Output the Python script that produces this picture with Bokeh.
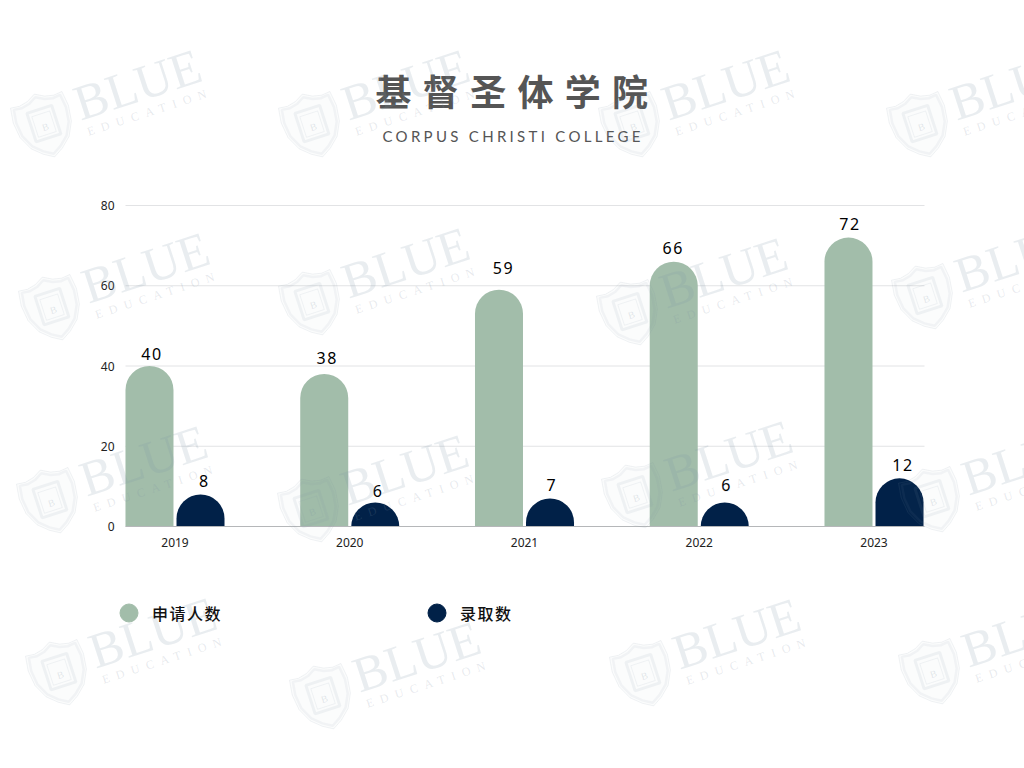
import math
import numpy as np
from bokeh.embed import file_html
from bokeh.resources import INLINE
from bokeh.io import curdoc
from bokeh.plotting import figure
from bokeh.core.properties import value
from bokeh.models import (ColumnDataSource, CustomJS, FixedTicker, Label, Legend, LegendItem,
                          PolyAnnotation, Range1d)

years = ["2019", "2020", "2021", "2022", "2023"]
applicants = [40, 38, 59, 66, 72]
admitted = [8, 6, 7, 6, 12]
series_names = ["申请人数", "录取数"]
y_ticks = [0, 20, 40, 60, 80]
title_text = "基督圣体学院"
subtitle_text = "CORPUS CHRISTI COLLEGE"

GREEN = "#a2bdaa"
NAVY = "#012148"
WM = "#7f92a5"
CJK = "Noto Sans CJK SC"
W, H = 1024, 768
# plot box in page pixels; the frame fills the page so that titles and legend are not clipped
PX0, PX1, PY0, PY1 = 125.0, 924.0, 205.0, 526.0
STEP = 174.75
X0 = 174.5
YK = (PY1 - PY0) / 80.0

p = figure(width=W, height=H, output_backend="svg", toolbar_location=None,
           x_range=Range1d((0 - X0) / STEP, (W - X0) / STEP),
           y_range=Range1d((PY1 - H) / YK, (PY1 - 0) / YK),
           min_border_left=0, min_border_right=0, min_border_top=0, min_border_bottom=0)
p.outline_line_color = None
p.background_fill_color = "white"
p.border_fill_color = "white"
p.grid.visible = False

x_lo, x_hi = (PX0 - X0) / STEP, (PX1 - X0) / STEP
p.segment(x0=[x_lo] * 4, x1=[x_hi] * 4, y0=y_ticks[1:], y1=y_ticks[1:], line_color="#e2e3e5", line_width=1)

p.yaxis.fixed_location = x_lo
p.yaxis.ticker = FixedTicker(ticks=y_ticks)
p.yaxis.axis_line_color = None
p.yaxis.major_tick_line_color = None
p.yaxis.minor_tick_line_color = None
p.yaxis.major_label_text_font = "Noto Sans"
p.yaxis.major_label_text_font_size = "12px"
p.yaxis.major_label_text_color = "#222222"
p.yaxis.major_label_standoff = 5

p.xaxis.fixed_location = 0
p.xaxis.bounds = (x_lo, x_hi)
p.xaxis.ticker = FixedTicker(ticks=list(range(len(years))))
p.xaxis.major_label_overrides = {i: y for i, y in enumerate(years)}
p.xaxis.axis_line_color = "#b5b7b9"
p.xaxis.major_tick_line_color = None
p.xaxis.minor_tick_line_color = None
p.xaxis.major_label_text_font = "Noto Sans"
p.xaxis.major_label_text_font_size = "12px"
p.xaxis.major_label_text_color = "#222222"
p.xaxis.major_label_standoff = 5

idx = np.arange(len(years))
OFFSET, WIDTH = 0.146, 0.2747
radius = (24, 24, 0, 0)
p.vbar(x=idx - OFFSET, top=applicants, width=WIDTH, fill_color=GREEN, line_color=None, border_radius=radius)
p.vbar(x=idx + OFFSET, top=admitted, width=WIDTH, fill_color=NAVY, line_color=None, border_radius=radius)

# value labels, with the small nudges seen in the reference (pixels)
dx_a = [1, 1.5, 3, -2, 0]
dy_a = [12, 16, 22, 14, 14]
dx_b = [3, 2, 1, 1, 2]
dy_b = [13, 11, 13, 17, 13]
for xs, vals, dx, dy in ((idx - OFFSET, applicants, dx_a, dy_a), (idx + OFFSET, admitted, dx_b, dy_b)):
    src = ColumnDataSource(dict(x=xs, y=vals, t=[str(v) for v in vals], dx=dx, dy=[-d for d in dy]))
    p.text("x", "y", text="t", source=src, x_offset="dx", y_offset="dy",
           text_font=value("Noto Sans"), text_font_size="16px", text_color="#000000",
           text_align="center", text_baseline="middle")

# legend: the circles are drawn by the real Legend; the plot markers themselves have no size
r_a = p.scatter(idx - OFFSET, applicants, marker="circle", size=0, color=GREEN)
r_b = p.scatter(idx + OFFSET, admitted, marker="circle", size=0, color=NAVY)
legend = Legend(items=[LegendItem(label=series_names[0], renderers=[r_a]),
                       LegendItem(label=series_names[1], renderers=[r_b])],
                orientation="horizontal", location=(106, H - 635),
                glyph_width=45, glyph_height=45, label_standoff=1, spacing=192,
                padding=0, margin=0, border_line_color=None, background_fill_alpha=0,
                label_text_font="Noto Sans CJK SC Medium", label_text_font_size="16px",
                label_text_color="#111111", label_text_baseline="middle")
p.add_layout(legend, "center")


def sx(x):
    return x


def sy(y):
    return H - y


# titles
title = Label(x=sx(375), y=sy(89), x_units="screen", y_units="screen", text=title_text,
              text_font=CJK, text_font_size="36px", text_font_style="bold", text_color="#555555",
              text_align="left", text_baseline="alphabetic")
subtitle = Label(x=sx(382), y=sy(135), x_units="screen", y_units="screen", text=subtitle_text,
                 text_font="Lato", text_font_size="15px", text_color="#555555",
                 text_align="left", text_baseline="alphabetic")
p.add_layout(title)
p.add_layout(subtitle)

# watermark
shield_centres = [(42, 125), (310, 125), (630, 125), (918, 125),
                  (50, 308), (310, 303), (628, 313), (923, 297),
                  (48, 501), (309, 510), (633, 496), (930, 500),
                  (57, 673), (321, 697), (641, 674), (930, 672)]
ANG = math.radians(18)
SHIELD = [(-27, 27), (-18, 26), (-9, 28), (0, 33), (9, 28), (18, 26), (27, 27), (29, 12), (27, -4), (20, -18),
          (10, -27), (0, -33), (-10, -27), (-20, -18), (-27, -4), (-29, 12)]
BOOK = [(-13, 17), (13, 17), (13, -13), (-13, -13)]


def place(cx, cy, pts, k=1.0):
    out_x, out_y = [], []
    for x, y in pts:
        x, y = x * k, y * k
        out_x.append(sx(cx) + x * math.cos(ANG) - y * math.sin(ANG))
        out_y.append(sy(cy) + x * math.sin(ANG) + y * math.cos(ANG))
    return out_x, out_y


def poly(cx, cy, pts, k, lw, la, fa=0.0):
    xs, ys = place(cx, cy, pts, k)
    p.add_layout(PolyAnnotation(xs=xs, ys=ys, xs_units="screen", ys_units="screen",
                                line_color=WM, line_width=lw, line_alpha=la,
                                fill_color=WM, fill_alpha=fa))


for cx, cy in shield_centres:
    poly(cx + 2, cy, SHIELD, 1.0, 1.0, 0.11, 0.03)
    poly(cx + 2, cy, SHIELD, 0.9, 2.5, 0.08)
    poly(cx + 2, cy, BOOK, 1.0, 3, 0.10)
    poly(cx + 2, cy, BOOK, 0.72, 1, 0.10)
    bx, by = place(cx + 2, cy, [(-3, -7)])
    p.add_layout(Label(x=bx[0], y=by[0], x_units="screen", y_units="screen", text="B", angle=ANG,
                       text_font="Liberation Serif", text_font_size="10px", text_color=WM, text_alpha=0.22))
    p.add_layout(Label(x=sx(cx + 33), y=sy(cy - 21), x_units="screen", y_units="screen", text="BLUE", angle=ANG,
                       text_font="Liberation Serif", text_font_size="50px", text_color=WM, text_alpha=0.17,
                       text_align="left", text_baseline="alphabetic"))
    p.add_layout(Label(x=sx(cx + 45), y=sy(cy + 6.5), x_units="screen", y_units="screen",
                       text="EDUCATION", angle=ANG,
                       text_font="Liberation Serif", text_font_size="12px", text_color=WM, text_alpha=0.2,
                       text_align="left", text_baseline="alphabetic"))

# several texts are letter-spaced in the reference
spacing_js = CustomJS(args=dict(title=title_text, sub=subtitle_text, names=series_names), code="""
function walk(root, out) {
  root.querySelectorAll('*').forEach(el => {
    if (el.children.length === 0) out.push(el);
    if (el.shadowRoot) walk(el.shadowRoot, out);
  });
  return out;
}
function apply() {
  walk(document, []).forEach(el => {
    const t = el.textContent;
    if (names.includes(t)) { el.style.letterSpacing = '1.5px'; return; }
    if (!el.tagName || el.tagName.toLowerCase() !== 'text') return;
    if (t === title) el.style.letterSpacing = '11.3px';
    else if (t === sub) el.style.letterSpacing = '3.3px';
    else if (t === 'EDUCATION') el.style.letterSpacing = '7px';
    else if (/^[0-9]+$/.test(t) && el.outerHTML.includes('16px')) el.style.letterSpacing = '1.5px';
  });
}
apply();
setTimeout(apply, 100);
setTimeout(apply, 500);
""")
doc = curdoc()
doc.add_root(p)
doc.js_on_event("document_ready", spacing_js)

open("out.html", "w").write(file_html(p, INLINE))
